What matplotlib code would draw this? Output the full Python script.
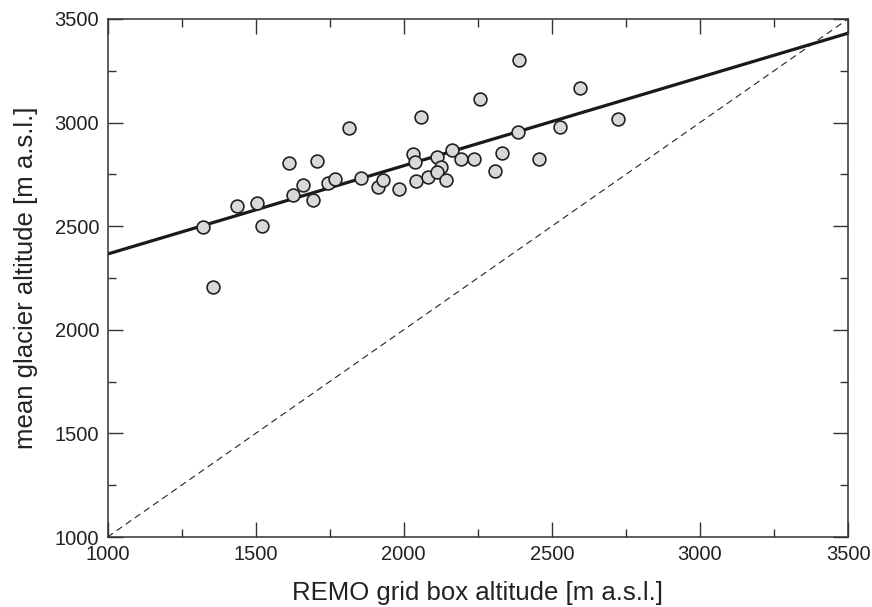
import numpy as np
import matplotlib
matplotlib.use('Agg')
import matplotlib.pyplot as plt
from matplotlib.ticker import MultipleLocator

plt.rcParams['font.family'] = ['Liberation Sans', 'DejaVu Sans']

# grid box altitude (REMO) vs mean glacier altitude, m a.s.l.
remo_alt = [1322, 1356, 1437, 1504, 1521, 1613, 1626, 1660, 1693, 1707,
            1744, 1767, 1815, 1855, 1913, 1930, 1983, 2031, 2038, 2041,
            2058, 2081, 2112, 2125, 2112, 2142, 2162, 2193, 2237, 2257,
            2307, 2331, 2385, 2389, 2456, 2527, 2594, 2722]
glacier_alt = [2496, 2207, 2598, 2612, 2501, 2805, 2651, 2699, 2626, 2815,
               2708, 2728, 2974, 2733, 2689, 2723, 2680, 2848, 2810, 2718,
               3027, 2737, 2834, 2786, 2762, 2723, 2868, 2824, 2824, 3114,
               2766, 2853, 2955, 3302, 2824, 2979, 3167, 3017]

x = np.array(remo_alt)
y = np.array(glacier_alt)
# least squares fit through the glacier points
slope, icpt = np.polyfit(x, y, 1)

fig = plt.figure(figsize=(8.72, 6.07), dpi=100)
ax = fig.add_axes([0.1233, 0.1153, 0.8492, 0.8534])

xx = np.array([1000, 3500])
ax.plot(xx, xx, color='#222222', lw=0.8, ls=(0, (6, 4)), zorder=1)  # 1:1 line
ax.plot(xx, slope * xx + icpt, color='#1a1a1a', lw=2.3, zorder=2)
ax.scatter(x, y, s=85, facecolor='#d9d9d9', edgecolor='#222222',
           linewidths=1.2, zorder=3)

ax.set_xlim(1000, 3500)
ax.set_ylim(1000, 3500)
ax.xaxis.set_major_locator(MultipleLocator(500))
ax.xaxis.set_minor_locator(MultipleLocator(250))
ax.yaxis.set_major_locator(MultipleLocator(500))
ax.yaxis.set_minor_locator(MultipleLocator(250))
ax.tick_params(which='both', direction='in', top=True, right=True,
               color='#333333', labelsize=14.5, labelcolor='#222222')
ax.tick_params(which='major', length=11, width=1, pad=6)
ax.tick_params(which='minor', length=6, width=1)
for s in ax.spines.values():
    s.set_color('#333333')
    s.set_linewidth(1.1)

ax.set_xlabel('REMO grid box altitude [m a.s.l.]', fontsize=18.5,
              color='#222222', labelpad=12)
ax.set_ylabel('mean glacier altitude [m a.s.l.]', fontsize=18.5,
              color='#222222', labelpad=12)

fig.savefig('out.png', dpi=100)
